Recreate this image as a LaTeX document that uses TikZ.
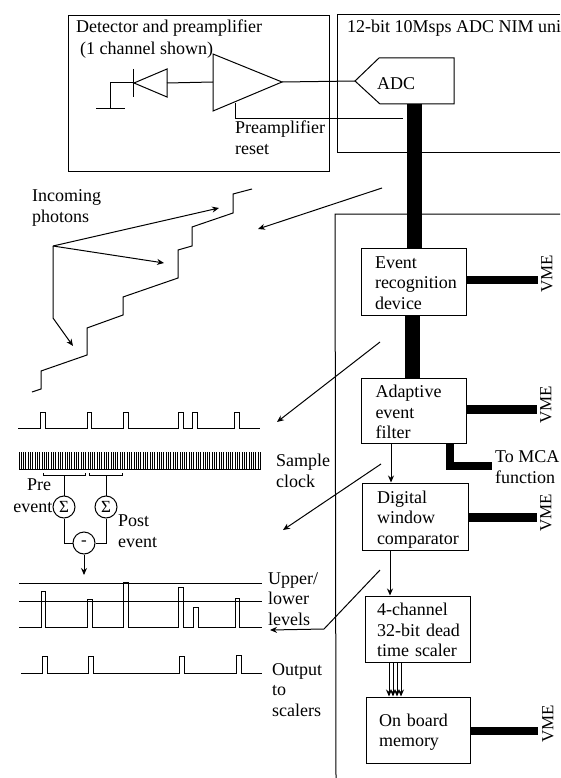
\documentclass[tikz,border=0pt]{standalone}
\usepackage{fontspec}
\setmainfont{Liberation Serif}
\usetikzlibrary{arrows.meta}
\newcommand{\firstline}[2]{\hspace*{#1pt}\rule{0pt}{#2pt}}
\newcommand{\nextline}[1]{\hspace*{#1pt}}
\tikzset{
  x=1pt,y=-1pt,
  wire/.style={draw=black,line width=1pt},
  arr/.style={wire,-{Stealth[length=7pt,width=6pt]}},
  bar/.style={draw=black,line width=8.5pt},
  busbar/.style={draw=black,line width=15pt},
  lab/.style={inner sep=0pt,anchor=base west,align=left,font=\fontsize{18}{20.5}\selectfont},
  blk/.style n args={2}{draw=black,line width=1pt,fill=white,inner sep=0pt,align=left,
     text width=#1pt,minimum width=#1pt,minimum height=#2pt,
     font=\fontsize{18}{20.5}\selectfont},
  vme/.style={inner sep=0pt,rotate=90,font=\fontsize{17}{20}\selectfont},
  sumc/.style={draw=black,line width=1pt,circle,minimum size=22pt,inner sep=0pt,font=\fontsize{17}{17}\selectfont},
  tick/.style={draw=black,line width=1pt}
}
\begin{document}
\begin{tikzpicture}
\useasboundingbox (0,0) rectangle (560,778);
\clip (0,0) rectangle (560,778);
% outer boxes
\draw[wire] (68,16) rectangle (329,172);
\draw[wire] (560,15) -- (337,15) -- (337,153) -- (560,153);
\draw[wire] (560,214) -- (335,214) -- (336,778);
\node[lab] (tdet) at (76,33) {Detector and preamplifier};
\node[lab] (tchan) at (80,55) {(1 channel shown)};
\node[lab] (tnim) at (347,33) {12-bit 10Msps ADC NIM uni};
% preamp and diode
\coordinate (ampA) at (213,54);
\coordinate (ampTip) at (282,82);
\coordinate (ampB) at (213,111);
\draw[wire] (ampA) -- (ampTip) -- (ampB) -- cycle;
\coordinate (dioR) at (167,83);
\coordinate (dioL) at (134,83);
\draw[wire] (167,69) -- (dioL) -- (167,97) -- cycle;
\draw[wire] (133.5,69) -- (133.5,97);
\draw[wire] (dioR) -- (213,82);
\coordinate (gnd) at (110.5,109);
\draw[wire] (dioL) -- (110.5,83) -- (gnd);
\draw[wire] (96,109) -- (125,109);
% ADC
\coordinate (adcTip) at (355,81);
\draw[wire,fill=white] (adcTip) -- (379,58) -- (454,58) -- (454,104) -- (380,104) -- cycle;
\node[lab] (tadc) at (377,90) {ADC};
\draw[wire] (ampTip) -- (adcTip);
\coordinate (rstA) at (235,103);
\coordinate (rstB) at (403,119);
\draw[wire] (rstA) -- (235,119) -- (rstB);
\node[lab] (trst) at (235,154) {Preamplifier\\reset};
% blocks
\node[blk={105}{67}] (ev) at (413.5,281.5) {\firstline{14}{15}Event\\\nextline{14}recognition\\\nextline{14}device};
\node[blk={105}{65}] (af) at (414,410.5) {\firstline{14}{16}Adaptive\\\nextline{14}event\\\nextline{14}filter};
\node[blk={106}{67}] (dw) at (415,516.5) {\firstline{15}{18.5}Digital\\\nextline{15}window\\\nextline{15}comparator};
\node[blk={105}{66}] (sc) at (417.5,629) {\firstline{12}{15}4-channel\\\nextline{12}32-bit dead\\\nextline{12}time scaler};
\node[blk={104}{66}] (mem) at (418,730) {\firstline{13}{16.5}On board\\\nextline{13}memory};
% bus
\coordinate (adcOut) at (414.5,104);
\draw[busbar] (adcOut) -- (adcOut |- ev.north);
\draw[busbar] ([xshift=-1.5pt]ev.south) -- ([xshift=-2pt]af.north);
\coordinate (vmeA) at (538,280);
\coordinate (vmeB) at (537,409.5);
\coordinate (vmeC) at (537,517.5);
\coordinate (vmeD) at (538,731);
\draw[bar] (ev.east |- vmeA) -- (vmeA);
\draw[bar] (af.east |- vmeB) -- (vmeB);
\draw[bar] (dw.east |- vmeC) -- (vmeC);
\draw[bar] (mem.east |- vmeD) -- (vmeD);
\node[vme] (va) at (547,274) {VME};
\node[vme] (vb) at (546,405) {VME};
\node[vme] (vc) at (546,513) {VME};
\node[vme] (vd) at (548,724) {VME};
\coordinate (mcaEnd) at (492,466);
\draw[bar] ([xshift=36pt]af.south) -- ([xshift=36pt]af.south |- mcaEnd) -- (mcaEnd);
\node[lab] (tmca) at (495,483) {To MCA\\function};
\draw[arr] ([xshift=-23pt]af.south) -- ([xshift=-24pt]dw.north);
\draw[arr] ([xshift=-25pt]dw.south) -- ([xshift=-27.5pt]sc.north);
\foreach \d in {-28.5,-24.5,-20.5,-16.5} {
  \draw[arr] ([xshift=\d pt]sc.south) -- ([xshift=\d pt,xshift=-0.5pt]mem.north);
}
% zoom arrows
\coordinate (zaS) at (382,188); \coordinate (zaE) at (258,229);
\coordinate (zbS) at (380,342); \coordinate (zbE) at (277,422);
\coordinate (zcS) at (381,464); \coordinate (zcE) at (283,530);
\coordinate (zdS) at (380,570); \coordinate (zdE) at (270,630);
\draw[arr] (zaS) -- (zaE);
\draw[arr] (zbS) -- (zbE);
\draw[arr] (zcS) -- (zcE);
\draw[arr] (zdS) -- (324,629) -- (zdE);
% staircase
\draw[wire] (32,392) -- (41,389) -- (41,371) -- (87,355) -- (87,328) -- (123,315) -- (123,297) -- (178,278) -- (178,250) -- (192,246) -- (192,227) -- (233,213) -- (233,194) -- (252,189);
\node[lab] (tinc) at (32,222) {Incoming\\photons};
\coordinate (ph) at (53,246);
\coordinate (phA) at (219,208);
\coordinate (phB) at (164,263);
\coordinate (phC) at (73,346);
\draw[arr] (ph) -- (phA);
\draw[arr] (ph) -- (phB);
\draw[arr] (ph) -- (53,318) -- (phC);
% pulse train
\draw[wire] (18,428) -- (40,428) -- (40,412) -- (45,412) -- (45,428) -- (87,428) -- (87,412) -- (91,412) -- (91,428) -- (123,428) -- (123,412) -- (128,412) -- (128,428) -- (178,428) -- (178,412) -- (183,412) -- (183,428) -- (192,428) -- (192,412) -- (197,412) -- (197,428) -- (234,428) -- (234,412) -- (239,412) -- (239,428) -- (260,428);
% clock
\foreach \i in {0,...,105} { \draw[tick] ({19+2.3*\i},452) -- ({19+2.3*\i},469); }
\draw[wire] (19,469) -- (261,469);
\node[lab] (tclk) at (276,487) {Sample\\clock};
% sums
\node[sumc] (s1) at (64,507) {Σ};
\node[sumc] (s2) at (106,507) {Σ};
\node[sumc] (md) at (84,543) {-};
\draw[wire] (43,473) -- (43,475) -- (85,475) -- (85,473);
\draw[wire] (89,473) -- (89,475) -- (122,475) -- (122,473);
\coordinate (brA) at (64,475);
\coordinate (brB) at (106,475);
\draw[wire] (brA) -- (s1.north);
\draw[wire] (brB) -- (s2.north);
\draw[wire] (s1.south) -- (s1.south |- md.west) -- (md.west);
\draw[wire] (s2.south) -- (s2.south |- md.east) -- (md.east);
\coordinate (cmpIn) at (84,575);
\draw[arr] (md.south) -- (cmpIn);
\node[lab] (tpre) at (27,490) {Pre};
\node[lab,anchor=base east] (tev2) at (52.5,512) {event};
\node[lab] (tpost) at (118,547) {Post\\event};
% levels
\draw[wire] (19,583) -- (262,583);
\draw[wire] (19,601) -- (262,601);
\draw[wire] (19,627) -- (41,627) -- (41,591) -- (45,591) -- (45,627) -- (87,627) -- (87,599) -- (92,599) -- (92,627) -- (123,627) -- (123,582) -- (128,582) -- (128,627) -- (178,627) -- (178,587) -- (183,587) -- (183,627) -- (193,627) -- (193,607) -- (198,607) -- (198,627) -- (235,627) -- (235,598) -- (239,598) -- (239,627) -- (262,627);
\node[lab] (tlev) at (268,625) {Upper/\\lower\\levels};
% output
\draw[wire] (21,673) -- (42,673) -- (42,656) -- (47,656) -- (47,673) -- (88,673) -- (88,656) -- (93,656) -- (93,673) -- (179,673) -- (179,656) -- (184,656) -- (184,673) -- (236,673) -- (236,655) -- (241,655) -- (241,673) -- (262,673);
\node[lab] (tout) at (272,716) {Output\\to\\scalers};
\end{tikzpicture}
\end{document}
